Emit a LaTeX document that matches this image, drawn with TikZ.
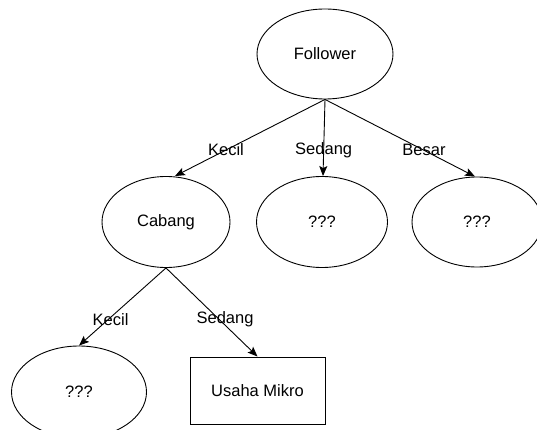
\documentclass[tikz,border=0pt]{standalone}
\usepackage{fontspec}
\setmainfont{Liberation Sans}
\usetikzlibrary{shapes.geometric,arrows.meta}
\begin{document}
\begin{tikzpicture}[x=1pt,y=-1pt,
  every node/.style={font=\fontsize{16.5}{19}\selectfont},
  oval/.style={ellipse,draw,line width=0.9pt,inner sep=0pt},
  leafbox/.style={rectangle,draw,line width=0.9pt,inner sep=0pt,minimum width=135pt,minimum height=67pt},
  conn/.style={draw,line width=0.9pt,-{Stealth[length=10pt,width=8pt,inset=2pt]}},
  lbl/.style={inner sep=0pt}]
\clip (0,0) rectangle (537,430);
\useasboundingbox (0,0) rectangle (537,430);
\node[oval,minimum width=136pt,minimum height=90pt] (F) at (325,54) {Follower};
\node[oval,minimum width=128pt,minimum height=91pt] (C) at (166,222) {Cabang};
\node[oval,minimum width=131pt,minimum height=91pt] (M) at (322,222) {???};
\node[oval,minimum width=130pt,minimum height=90pt] (R) at (477,222) {???};
\node[oval,minimum width=135pt,minimum height=92pt] (L) at (79,392) {???};
\node[leafbox] (U) at (257.5,390.5) {Usaha Mikro};
\draw[conn] (F.south) -- node[lbl,pos=0.66] {Kecil} ([xshift=9pt]C.north);
\draw[conn] (F.south) -- node[lbl,pos=0.66] {Sedang} ([xshift=1pt]M.north);
\draw[conn] (F.south) -- node[lbl,pos=0.66] {Besar} ([xshift=-2pt]R.north);
\draw[conn] (C.south) -- node[lbl,pos=0.66,xshift=2pt] {Kecil} (L.north);
\draw[conn] (C.south) -- node[lbl,pos=0.58,xshift=6pt] {Sedang} (U.north);
\end{tikzpicture}
\end{document}
